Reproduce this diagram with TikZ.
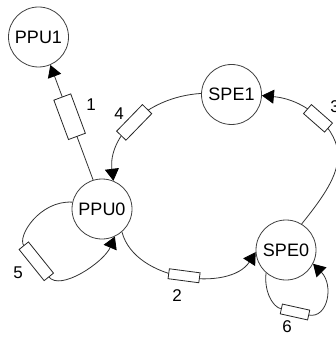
\documentclass[tikz,border=0pt]{standalone}
\usepackage{fontspec}
\setmainfont{Liberation Sans}
\usetikzlibrary{arrows.meta}
\begin{document}
\begin{tikzpicture}[x=1pt,y=-1pt,
  cellnode/.style={circle, draw=black!75, line width=0.8pt, minimum size=60pt,
    inner sep=0pt, font=\fontsize{18}{20}\selectfont},
  wire/.style={draw=black!80, line width=0.8pt},
  arrowend/.style={-{Triangle[length=12pt,width=14pt,color=black,fill=black]}},
  resbox/.style={draw=black!85, line width=0.8pt, fill=white, rectangle,
    inner sep=0pt, sloped},
  tag/.style={inner sep=0pt, font=\fontsize{17}{19}\selectfont}]
\useasboundingbox (0,0) rectangle (335,339);

% processing units
\node[cellnode] (PPU1) at (38.5,37) {PPU1};
\node[cellnode] (PPU0) at (102,209) {PPU0};
\node[cellnode] (SPE1) at (231.5,94.5) {SPE1};
\node[cellnode] (SPE0) at (286,250) {SPE0};

% link 1: PPU0 -> PPU1
\draw[wire,arrowend] (PPU0.107) -- (PPU1.293)
  node[resbox,pos=0.55,minimum width=42pt,minimum height=18pt] (r1) {};

% link 4: SPE1 -> PPU0
\draw[wire,arrowend] (SPE1.178) .. controls (145,97) and (108,138) .. (PPU0.68)
  node[resbox,pos=0.5,minimum width=37pt,minimum height=13pt] (r4) {};

% link 3: SPE0 -> SPE1, bending round the right side
\draw[wire,arrowend] (SPE0.59) .. controls (325,195) and (338,175) .. (338,155)
  .. controls (338,132) and (310,100) .. (SPE1.358)
  node[resbox,pos=0.5,minimum width=28pt,minimum height=12pt] (r3) {};

% link 2: PPU0 -> SPE0
\draw[wire,arrowend] (PPU0.311) .. controls (135,282) and (230,292) .. (SPE0.184)
  node[resbox,pos=0.5,minimum width=31pt,minimum height=10pt] (r2) {};

% link 5: loop on PPU0
\draw[wire,arrowend] (PPU0.167) .. controls (40,200) and (16.4,236.6) .. (24,246)
  -- (48.6,276.6) node[resbox,midway,minimum width=40pt,minimum height=12pt] (r5) {}
  .. controls (60,292) and (104,262) .. (PPU0.295);

% link 6: loop on SPE0
\draw[wire,arrowend] (SPE0.229) .. controls (264,290) and (271.7,306.8) .. (281.5,309)
  -- (308.5,315) node[resbox,midway,minimum width=28pt,minimum height=10pt] (r6) {}
  .. controls (328,319) and (334,285) .. (SPE0.333);

% link numbers
\node[tag] (n1) at (91,105) {1};
\node[tag] (n4) at (119,114) {4};
\node[tag] (n3) at (335,107) {3};
\node[tag] (n2) at (177,296) {2};
\node[tag] (n5) at (18,273) {5};
\node[tag] (n6) at (287,327) {6};
\end{tikzpicture}
\end{document}
